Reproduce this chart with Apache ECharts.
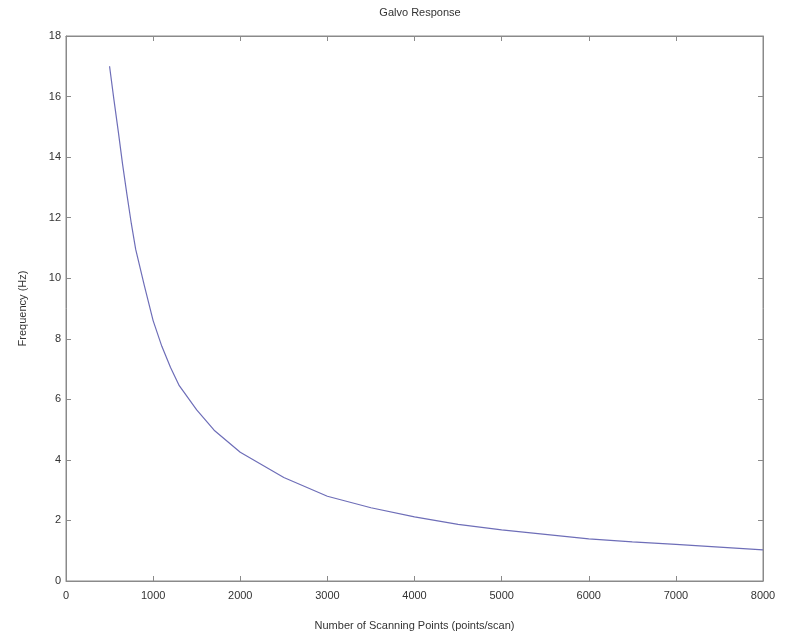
<!DOCTYPE html>
<html><head><meta charset="utf-8">
<script src="https://cdn.jsdelivr.net/npm/echarts@6/dist/echarts.min.js"></script>
<style>html,body{margin:0;padding:0;background:#fff}#c{width:794px;height:636px}</style>
</head><body><div id="c"></div>
<script>
const scanPoints = [500,550,600,650,700,750,800,900,1000,1100,1200,1300,1500,1700,2000,2500,3000,3500,4000,4500,5000,5500,6000,6500,7000,7500,8000];
const frequency = [17.0,15.9,14.85,13.75,12.75,11.8,10.95,9.75,8.6,7.75,7.05,6.45,5.65,4.98,4.25,3.42,2.8,2.42,2.12,1.87,1.69,1.54,1.39,1.29,1.21,1.12,1.03];
const titleText = 'Galvo Response';
const xName = 'Number of Scanning Points (points/scan)';
const yName = 'Frequency (Hz)';

const font = 'Liberation Sans, Arial, sans-serif';
const axisCol = '#8a8a8a';
const textCol = '#333';
const chart = echarts.init(document.getElementById('c'));
const baseX = {type:'value',min:0,max:8000,interval:1000};
const baseY = {type:'value',min:0,max:18,interval:2};
const tick = {show:true,inside:true,length:5,lineStyle:{color:axisCol}};
const line = {show:true,onZero:false,lineStyle:{color:axisCol}};
chart.setOption({
  animation:false,
  title:{text:titleText,left:415,top:2,textAlign:'center',textStyle:{fontFamily:font,fontSize:11,fontWeight:'normal',color:textCol}},
  grid:{left:66,top:36,right:31,bottom:55,show:true,borderColor:axisCol,borderWidth:1},
  xAxis:[
    Object.assign({},baseX,{position:'bottom',name:xName,nameLocation:'middle',nameGap:39,
      nameTextStyle:{fontFamily:font,fontSize:11,color:textCol},
      axisLine:line,axisTick:tick,
      axisLabel:{fontFamily:font,fontSize:11,color:textCol,margin:9,formatter:v=>String(v)},splitLine:{show:false}}),
    Object.assign({},baseX,{position:'top',axisLine:line,axisTick:tick,axisLabel:{show:false},splitLine:{show:false}})
  ],
  yAxis:[
    Object.assign({},baseY,{position:'left',name:yName,nameLocation:'middle',nameGap:38,
      nameTextStyle:{fontFamily:font,fontSize:11,color:textCol},
      axisLine:line,axisTick:tick,
      axisLabel:{fontFamily:font,fontSize:11,color:textCol,margin:5},splitLine:{show:false}}),
    Object.assign({},baseY,{position:'right',axisLine:line,axisTick:tick,axisLabel:{show:false},splitLine:{show:false}})
  ],
  series:[{type:'line',xAxisIndex:0,yAxisIndex:0,showSymbol:false,smooth:false,
    lineStyle:{color:'#6e6eb8',width:1.2},
    data:scanPoints.map((x,i)=>[x,frequency[i]])}]
});
</script></body></html>
